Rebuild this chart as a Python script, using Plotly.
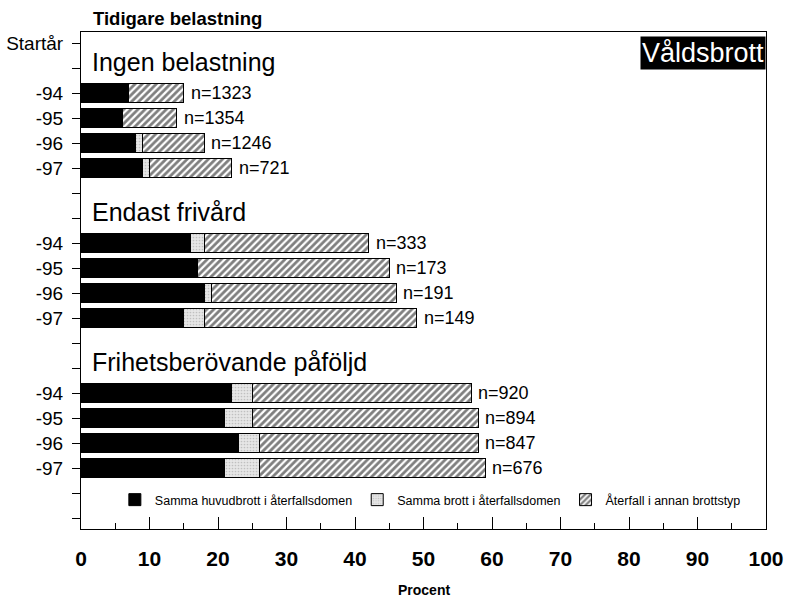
import plotly.graph_objects as go

# ---- data ----
groups = ["Ingen belastning", "Endast frivård", "Frihetsberövande påföljd"]
years = ["-94", "-95", "-96", "-97"]
same_main = [7, 6, 8, 9, 16, 17, 18, 15, 22, 21, 23, 21]
same_crime = [0, 0, 1, 1, 2, 0, 1, 3, 3, 4, 3, 5]
other_type = [8, 8, 9, 12, 24, 28, 27, 31, 32, 33, 32, 33]
n_values = ["n=1323", "n=1354", "n=1246", "n=721",
            "n=333", "n=173", "n=191", "n=149",
            "n=920", "n=894", "n=847", "n=676"]
series_names = ["Samma huvudbrott i återfallsdomen",
                "Samma brott i återfallsdomen",
                "Återfall i annan brottstyp"]
x_ticks = [0, 10, 20, 30, 40, 50, 60, 70, 80, 90, 100]

# row layout (category slots from top)
header_rows = [1, 7, 13]
bar_rows = [2, 3, 4, 5, 8, 9, 10, 11, 14, 15, 16, 17]
n_slots = 20

FONT = "Liberation Sans, Arial, sans-serif"
PLOT_H = 497  # plot area height in px (used for paper-coordinate offsets)

fig = go.Figure()
fig.add_trace(go.Bar(
    y=bar_rows, x=same_main, orientation="h", name=series_names[0],
    width=0.78, marker=dict(color="black", line=dict(color="black", width=1)),
))
fig.add_trace(go.Bar(
    y=bar_rows, x=same_crime, orientation="h", name=series_names[1],
    width=0.78, marker=dict(color="#e6e6e6", line=dict(color="black", width=1),
                            pattern=dict(shape=".", fgcolor="#9a9a9a", bgcolor="#e6e6e6",
                                         size=3, solidity=0.25)),
))
fig.add_trace(go.Bar(
    y=bar_rows, x=other_type, orientation="h", name=series_names[2],
    width=0.78, marker=dict(color="white", line=dict(color="black", width=1),
                            pattern=dict(shape="/", fgcolor="black", bgcolor="white",
                                         size=5, solidity=0.55)),
))

annotations = []
totals = [a + b + c for a, b, c in zip(same_main, same_crime, other_type)]
for row, tot, label in zip(bar_rows, totals, n_values):
    annotations.append(dict(x=tot, y=row, xref="x", yref="y", text=label,
                            showarrow=False, xanchor="left", xshift=5,
                            font=dict(family=FONT, size=18, color="black")))
for row, g in zip(header_rows, groups):
    annotations.append(dict(x=0, y=row, xref="x", yref="y", text=g,
                            showarrow=False, xanchor="left", xshift=9, yshift=6,
                            font=dict(family=FONT, size=25, color="black")))
annotations.append(dict(x=(91 - 81) / 685, y=1 + 14 / PLOT_H, xref="paper", yref="paper",
                        xanchor="left", yanchor="middle", text="<b>Tidigare belastning</b>",
                        showarrow=False, font=dict(family=FONT, size=18.5, color="black")))
annotations.append(dict(x=1, y=1, xref="paper", yref="paper", xanchor="right", yanchor="top",
                        yshift=-4, text="Våldsbrott", showarrow=False, bgcolor="black",
                        borderpad=1, font=dict(family=FONT, size=27, color="white")))
annotations.append(dict(x=0.5, y=0, xref="paper", yref="paper", xanchor="center",
                        yanchor="middle", yshift=-61, text="<b>Procent</b>", showarrow=False,
                        font=dict(family=FONT, size=14, color="black")))

tickvals = list(range(n_slots))
ticktext = [""] * n_slots
ticktext[0] = "Startår"
for i, row in enumerate(bar_rows):
    ticktext[row] = years[i % 4]

fig.update_layout(
    barmode="stack",
    width=786, height=598,
    margin=dict(l=81, r=20, t=32, b=69),
    paper_bgcolor="white", plot_bgcolor="white",
    font=dict(family=FONT, color="black"),
    annotations=annotations,
    legend=dict(orientation="h", x=0.51, y=29 / PLOT_H, xanchor="center",
                yanchor="middle", font=dict(family=FONT, size=12.5, color="black"),
                bgcolor="rgba(0,0,0,0)", traceorder="normal", itemwidth=30),
    xaxis=dict(range=[0, 100], tickvals=x_ticks, ticks="inside", ticklen=12,
               tickcolor="black", showgrid=False, zeroline=False, automargin=False,
               showline=True, linecolor="black", linewidth=1, mirror=True,
               minor=dict(ticks="inside", dtick=5, ticklen=6, tickcolor="black"),
               ticklabelstandoff=11,
               tickfont=dict(family=FONT, size=21, color="black", weight="bold")),
    yaxis=dict(range=[19.44, -0.44], tickvals=tickvals, ticktext=ticktext,
               ticks="outside", ticklen=8, tickcolor="black", showgrid=False,
               zeroline=False, showline=True, linecolor="black", linewidth=1,
               mirror=True, automargin=False, ticklabelstandoff=5,
               tickfont=dict(family=FONT, size=19, color="black")),
)

fig.write_html("out.html",
               config={"displayModeBar": False},
               post_script="document.body.style.margin='0';document.body.style.overflow='hidden';")
